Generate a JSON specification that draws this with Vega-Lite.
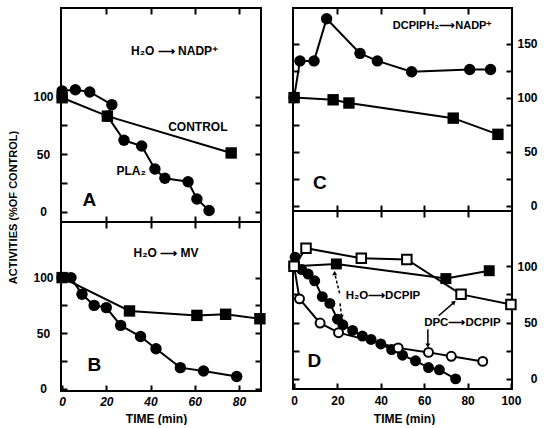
{
  "$schema": "https://vega.github.io/schema/vega-lite/v6.json",
  "padding": {"left": 6, "top": 6, "right": 0, "bottom": 0},
  "background": "white",
  "config": {
    "font": "Liberation Sans",
    "view": {"stroke": "black", "strokeWidth": 2},
    "axis": {
      "domain": false, "grid": false, "tickSize": 6, "offset": -6, "tickWidth": 2, "tickColor": "black",
      "labelFont": "Liberation Sans", "labelFontSize": 12, "labelFontWeight": "bold", "labelColor": "black",
      "titleFont": "Liberation Sans", "titleFontSize": 12, "titleFontWeight": "bold", "titleColor": "black",
      "labelOverlap": false, "labelFlush": false
    },
    "text": {"font": "Liberation Sans", "fontWeight": "bold", "fontSize": 12, "color": "black"}
  },
  "datasets": {
    "A": [
      {"s": "pla2", "o": 1, "t": 0, "v": 100},
      {"s": "pla2", "o": 2, "t": 0, "v": 105},
      {"s": "pla2", "o": 3, "t": 6, "v": 106},
      {"s": "pla2", "o": 4, "t": 12.5, "v": 104},
      {"s": "pla2", "o": 5, "t": 22.5, "v": 93},
      {"s": "pla2", "o": 6, "t": 20.5, "v": 83},
      {"s": "pla2", "o": 7, "t": 28, "v": 62},
      {"s": "pla2", "o": 8, "t": 36, "v": 57},
      {"s": "pla2", "o": 9, "t": 42, "v": 37},
      {"s": "pla2", "o": 10, "t": 46.5, "v": 29},
      {"s": "pla2", "o": 11, "t": 57, "v": 26},
      {"s": "pla2", "o": 12, "t": 61, "v": 11},
      {"s": "pla2", "o": 13, "t": 66.5, "v": 1},
      {"s": "ctrl", "o": 1, "t": 0, "v": 99},
      {"s": "ctrl", "o": 2, "t": 20.5, "v": 83},
      {"s": "ctrl", "o": 3, "t": 76.5, "v": 51}
    ],
    "B": [
      {"s": "pla2", "o": 1, "t": 0, "v": 100},
      {"s": "pla2", "o": 2, "t": 4, "v": 100},
      {"s": "pla2", "o": 3, "t": 9, "v": 85},
      {"s": "pla2", "o": 4, "t": 14.5, "v": 75},
      {"s": "pla2", "o": 5, "t": 20, "v": 73},
      {"s": "pla2", "o": 6, "t": 26.5, "v": 57},
      {"s": "pla2", "o": 7, "t": 35.5, "v": 47},
      {"s": "pla2", "o": 8, "t": 42.5, "v": 36},
      {"s": "pla2", "o": 9, "t": 53.5, "v": 19},
      {"s": "pla2", "o": 10, "t": 64, "v": 16},
      {"s": "pla2", "o": 11, "t": 79, "v": 11},
      {"s": "ctrl", "o": 1, "t": 0, "v": 100},
      {"s": "ctrl", "o": 2, "t": 30.5, "v": 70},
      {"s": "ctrl", "o": 3, "t": 61, "v": 66},
      {"s": "ctrl", "o": 4, "t": 74, "v": 67},
      {"s": "ctrl", "o": 5, "t": 89.5, "v": 63}
    ],
    "C": [
      {"s": "pla2", "o": 1, "t": 0, "v": 100},
      {"s": "pla2", "o": 2, "t": 2.7, "v": 134},
      {"s": "pla2", "o": 3, "t": 9.2, "v": 134},
      {"s": "pla2", "o": 4, "t": 15, "v": 173},
      {"s": "pla2", "o": 5, "t": 30.4, "v": 141},
      {"s": "pla2", "o": 6, "t": 38.4, "v": 134},
      {"s": "pla2", "o": 7, "t": 54.2, "v": 124},
      {"s": "pla2", "o": 8, "t": 81, "v": 126},
      {"s": "pla2", "o": 9, "t": 90.6, "v": 126},
      {"s": "ctrl", "o": 1, "t": 0, "v": 100},
      {"s": "ctrl", "o": 2, "t": 18, "v": 98},
      {"s": "ctrl", "o": 3, "t": 25.3, "v": 95},
      {"s": "ctrl", "o": 4, "t": 73.4, "v": 81},
      {"s": "ctrl", "o": 5, "t": 94, "v": 66}
    ],
    "D": [
      {"s": "h2o_pla2", "o": 1, "t": 0, "v": 100},
      {"s": "h2o_pla2", "o": 2, "t": 0.5, "v": 108},
      {"s": "h2o_pla2", "o": 3, "t": 3.5, "v": 97},
      {"s": "h2o_pla2", "o": 4, "t": 6.5, "v": 93},
      {"s": "h2o_pla2", "o": 5, "t": 9.5, "v": 87},
      {"s": "h2o_pla2", "o": 6, "t": 13, "v": 73},
      {"s": "h2o_pla2", "o": 7, "t": 16.5, "v": 67},
      {"s": "h2o_pla2", "o": 8, "t": 20, "v": 53},
      {"s": "h2o_pla2", "o": 9, "t": 22.5, "v": 48},
      {"s": "h2o_pla2", "o": 10, "t": 27, "v": 43},
      {"s": "h2o_pla2", "o": 11, "t": 31.5, "v": 38},
      {"s": "h2o_pla2", "o": 12, "t": 35.5, "v": 35},
      {"s": "h2o_pla2", "o": 13, "t": 40, "v": 31},
      {"s": "h2o_pla2", "o": 14, "t": 45, "v": 26},
      {"s": "h2o_pla2", "o": 15, "t": 50, "v": 21},
      {"s": "h2o_pla2", "o": 16, "t": 56, "v": 16},
      {"s": "h2o_pla2", "o": 17, "t": 62, "v": 10},
      {"s": "h2o_pla2", "o": 18, "t": 67, "v": 8},
      {"s": "h2o_pla2", "o": 19, "t": 74.5, "v": 0},
      {"s": "h2o_ctrl", "o": 1, "t": 0, "v": 100},
      {"s": "h2o_ctrl", "o": 2, "t": 19.5, "v": 102},
      {"s": "h2o_ctrl", "o": 3, "t": 70, "v": 89},
      {"s": "h2o_ctrl", "o": 4, "t": 90, "v": 96},
      {"s": "dpc_pla2", "o": 1, "t": 0, "v": 100},
      {"s": "dpc_pla2", "o": 2, "t": 2.5, "v": 71},
      {"s": "dpc_pla2", "o": 3, "t": 12, "v": 49.5},
      {"s": "dpc_pla2", "o": 4, "t": 20.5, "v": 41},
      {"s": "dpc_pla2", "o": 5, "t": 48, "v": 27.5},
      {"s": "dpc_pla2", "o": 6, "t": 62, "v": 23.5},
      {"s": "dpc_pla2", "o": 7, "t": 72.5, "v": 20},
      {"s": "dpc_pla2", "o": 8, "t": 87, "v": 15.5},
      {"s": "dpc_ctrl", "o": 1, "t": 0, "v": 100},
      {"s": "dpc_ctrl", "o": 2, "t": 5.5, "v": 116},
      {"s": "dpc_ctrl", "o": 3, "t": 31, "v": 107},
      {"s": "dpc_ctrl", "o": 4, "t": 52, "v": 106},
      {"s": "dpc_ctrl", "o": 5, "t": 77, "v": 75},
      {"s": "dpc_ctrl", "o": 6, "t": 100, "v": 66}
    ]
  },
  "spacing": 17,
  "hconcat": [
    {
      "bounds": "flush",
      "spacing": 0,
      "vconcat": [
        {
          "width": 200, "height": 214,
          "data": {"name": "A"},
          "resolve": {"axis": {"x": "independent", "y": "independent"}},
          "layer": [
            {
              "mark": {"type": "line", "color": "black", "strokeWidth": 2},
              "encoding": {
                "x": {"field": "t", "type": "quantitative", "scale": {"domain": [-0.5, 90], "nice": false, "zero": false},
                      "axis": {"orient": "bottom", "values": [20, 40, 60, 80], "labels": false, "title": null}},
                "y": {"field": "v", "type": "quantitative", "scale": {"domain": [-9, 177], "nice": false, "zero": false},
                      "axis": {"orient": "left", "values": [0, 25, 50, 75, 100], "labelExpr": "datum.value % 50 === 0 ? datum.label : ''",
                               "labelAlign": "center", "labelPadding": 18,
                               "title": "ACTIVITIES (%OF CONTROL)", "titleX": -54, "titleY": 199, "titleAngle": -90,
                               "titleAlign": "center", "titleBaseline": "middle", "titleFontSize": 11}},
                "detail": {"field": "s"},
                "order": {"field": "o"}
              }
            },
            {
              "transform": [{"filter": "datum.s === 'ctrl'"}],
              "mark": {"type": "point", "shape": "square", "filled": true, "color": "black", "size": 130, "opacity": 1},
              "encoding": {
                "x": {"field": "t", "type": "quantitative", "axis": {"orient": "top", "values": [20, 40, 60, 80], "labels": false, "title": null}},
                "y": {"field": "v", "type": "quantitative", "axis": {"orient": "right", "values": [0, 25, 50, 75, 100], "labels": false, "title": null}}
              }
            },
            {
              "transform": [{"filter": "datum.s === 'pla2'"}],
              "mark": {"type": "point", "shape": "circle", "filled": true, "color": "black", "size": 130, "opacity": 1},
              "encoding": {
                "x": {"field": "t", "type": "quantitative", "axis": null},
                "y": {"field": "v", "type": "quantitative", "axis": null}
              }
            },
            {
              "data": {"values": [
                {"t": 50.9, "v": 140, "label": "H₂O ⟶ NADP⁺"},
                {"t": 61.4, "v": 74, "label": "CONTROL"},
                {"t": 31.2, "v": 35.5, "label": "PLA₂"}
              ]},
              "mark": {"type": "text", "fontSize": 12, "align": "center", "baseline": "middle"},
              "encoding": {
                "x": {"field": "t", "type": "quantitative", "axis": null},
                "y": {"field": "v", "type": "quantitative", "axis": null},
                "text": {"field": "label"}
              }
            },
            {
              "data": {"values": [{"t": 12.3, "v": 10.5, "label": "A"}]},
              "mark": {"type": "text", "fontSize": 19, "align": "center", "baseline": "middle"},
              "encoding": {
                "x": {"field": "t", "type": "quantitative", "axis": null},
                "y": {"field": "v", "type": "quantitative", "axis": null},
                "text": {"field": "label"}
              }
            }
          ]
        },
        {
          "width": 200, "height": 169,
          "data": {"name": "B"},
          "resolve": {"axis": {"x": "independent", "y": "independent"}},
          "layer": [
            {
              "mark": {"type": "line", "color": "black", "strokeWidth": 2},
              "encoding": {
                "x": {"field": "t", "type": "quantitative", "scale": {"domain": [-0.5, 90], "nice": false, "zero": false},
                      "axis": {"orient": "bottom", "values": [0, 20, 40, 60, 80], "labelFontStyle": "italic", "labelPadding": 5,
                               "title": "TIME (min)", "titleX": 95, "titleY": 33, "titleAlign": "center", "titleBaseline": "middle"}},
                "y": {"field": "v", "type": "quantitative", "scale": {"domain": [-2, 150], "nice": false, "zero": false},
                      "axis": {"orient": "left", "values": [0, 25, 50, 75, 100], "labelExpr": "datum.value % 50 === 0 ? datum.label : ''",
                               "labelAlign": "center", "labelPadding": 18, "title": null}},
                "detail": {"field": "s"},
                "order": {"field": "o"}
              }
            },
            {
              "transform": [{"filter": "datum.s === 'ctrl'"}],
              "mark": {"type": "point", "shape": "square", "filled": true, "color": "black", "size": 130, "opacity": 1},
              "encoding": {
                "x": {"field": "t", "type": "quantitative", "axis": {"orient": "top", "values": [20, 40, 60, 80], "labels": false, "title": null}},
                "y": {"field": "v", "type": "quantitative", "axis": {"orient": "right", "values": [0, 25, 50, 75, 100], "labels": false, "title": null}}
              }
            },
            {
              "transform": [{"filter": "datum.s === 'pla2'"}],
              "mark": {"type": "point", "shape": "circle", "filled": true, "color": "black", "size": 130, "opacity": 1},
              "encoding": {
                "x": {"field": "t", "type": "quantitative", "axis": null},
                "y": {"field": "v", "type": "quantitative", "axis": null}
              }
            },
            {
              "data": {"values": [{"t": 47, "v": 122, "label": "H₂O ⟶ MV"}]},
              "mark": {"type": "text", "fontSize": 12, "align": "center", "baseline": "middle"},
              "encoding": {
                "x": {"field": "t", "type": "quantitative", "axis": null},
                "y": {"field": "v", "type": "quantitative", "axis": null},
                "text": {"field": "label"}
              }
            },
            {
              "data": {"values": [{"t": 14.6, "v": 21.4, "label": "B"}]},
              "mark": {"type": "text", "fontSize": 19, "align": "center", "baseline": "middle"},
              "encoding": {
                "x": {"field": "t", "type": "quantitative", "axis": null},
                "y": {"field": "v", "type": "quantitative", "axis": null},
                "text": {"field": "label"}
              }
            }
          ]
        }
      ]
    },
    {
      "bounds": "flush",
      "spacing": 0,
      "vconcat": [
        {
          "width": 219, "height": 203,
          "data": {"name": "C"},
          "resolve": {"axis": {"x": "independent", "y": "independent"}},
          "layer": [
            {
              "mark": {"type": "line", "color": "black", "strokeWidth": 2},
              "encoding": {
                "x": {"field": "t", "type": "quantitative", "scale": {"domain": [-0.5, 100.5], "nice": false, "zero": false},
                      "axis": {"orient": "bottom", "values": [20, 40, 60, 80], "labels": false, "title": null}},
                "y": {"field": "v", "type": "quantitative", "scale": {"domain": [-5, 183], "nice": false, "zero": false},
                      "axis": {"orient": "left", "values": [0, 25, 50, 75, 100, 125, 150], "labels": false, "title": null}},
                "detail": {"field": "s"},
                "order": {"field": "o"}
              }
            },
            {
              "transform": [{"filter": "datum.s === 'ctrl'"}],
              "mark": {"type": "point", "shape": "square", "filled": true, "color": "black", "size": 130, "opacity": 1},
              "encoding": {
                "x": {"field": "t", "type": "quantitative", "axis": {"orient": "top", "values": [20, 40, 60, 80], "labels": false, "title": null}},
                "y": {"field": "v", "type": "quantitative", "axis": {"orient": "right", "values": [0, 25, 50, 75, 100, 125, 150],
                      "labelExpr": "datum.value % 50 === 0 ? datum.label : ''", "labelAlign": "right", "labelPadding": 25, "title": null}}
              }
            },
            {
              "transform": [{"filter": "datum.s === 'pla2'"}],
              "mark": {"type": "point", "shape": "circle", "filled": true, "color": "black", "size": 130, "opacity": 1},
              "encoding": {
                "x": {"field": "t", "type": "quantitative", "axis": null},
                "y": {"field": "v", "type": "quantitative", "axis": null}
              }
            },
            {
              "data": {"values": [{"t": 68.5, "v": 166, "label": "DCPIPH₂⟶NADP⁺"}]},
              "mark": {"type": "text", "fontSize": 11, "align": "center", "baseline": "middle"},
              "encoding": {
                "x": {"field": "t", "type": "quantitative", "axis": null},
                "y": {"field": "v", "type": "quantitative", "axis": null},
                "text": {"field": "label"}
              }
            },
            {
              "data": {"values": [{"t": 11.9, "v": 21, "label": "C"}]},
              "mark": {"type": "text", "fontSize": 19, "align": "center", "baseline": "middle"},
              "encoding": {
                "x": {"field": "t", "type": "quantitative", "axis": null},
                "y": {"field": "v", "type": "quantitative", "axis": null},
                "text": {"field": "label"}
              }
            }
          ]
        },
        {
          "width": 219, "height": 178,
          "data": {"name": "D"},
          "resolve": {"axis": {"x": "independent", "y": "independent"}},
          "layer": [
            {
              "mark": {"type": "line", "color": "black", "strokeWidth": 2},
              "encoding": {
                "x": {"field": "t", "type": "quantitative", "scale": {"domain": [-0.5, 100.5], "nice": false, "zero": false},
                      "axis": {"orient": "bottom", "values": [0, 20, 40, 60, 80, 100], "labelPadding": 6,
                               "title": "TIME (min)", "titleX": 111, "titleY": 35, "titleAlign": "center", "titleBaseline": "middle"}},
                "y": {"field": "v", "type": "quantitative", "scale": {"domain": [-9, 149], "nice": false, "zero": false},
                      "axis": {"orient": "left", "values": [0, 25, 50, 75, 100], "labels": false, "title": null}},
                "detail": {"field": "s"},
                "order": {"field": "o"}
              }
            },
            {
              "transform": [{"filter": "datum.s === 'h2o_pla2'"}],
              "mark": {"type": "point", "shape": "circle", "filled": true, "color": "black", "size": 120, "opacity": 1},
              "encoding": {
                "x": {"field": "t", "type": "quantitative", "axis": {"orient": "top", "values": [20, 40, 60, 80], "labels": false, "title": null}},
                "y": {"field": "v", "type": "quantitative", "axis": {"orient": "right", "values": [0, 25, 50, 75, 100],
                      "labelExpr": "datum.value % 50 === 0 ? datum.label : ''", "labelAlign": "right", "labelPadding": 25, "title": null}}
              }
            },
            {
              "transform": [{"filter": "datum.s === 'h2o_ctrl'"}],
              "mark": {"type": "point", "shape": "square", "filled": true, "color": "black", "size": 120, "opacity": 1},
              "encoding": {
                "x": {"field": "t", "type": "quantitative", "axis": null},
                "y": {"field": "v", "type": "quantitative", "axis": null}
              }
            },
            {
              "transform": [{"filter": "datum.s === 'dpc_pla2'"}],
              "mark": {"type": "point", "shape": "circle", "filled": true, "fill": "white", "stroke": "black", "strokeWidth": 2, "size": 80, "opacity": 1},
              "encoding": {
                "x": {"field": "t", "type": "quantitative", "axis": null},
                "y": {"field": "v", "type": "quantitative", "axis": null}
              }
            },
            {
              "transform": [{"filter": "datum.s === 'dpc_ctrl'"}],
              "mark": {"type": "point", "shape": "square", "filled": true, "fill": "white", "stroke": "black", "strokeWidth": 2, "size": 90, "opacity": 1},
              "encoding": {
                "x": {"field": "t", "type": "quantitative", "axis": null},
                "y": {"field": "v", "type": "quantitative", "axis": null}
              }
            },
            {
              "data": {"values": [
                {"t": 21, "v": 76, "t2": 18.8, "v2": 93},
                {"t": 21.2, "v": 67, "t2": 21.8, "v2": 56}
              ]},
              "mark": {"type": "rule", "color": "black", "strokeWidth": 1.5, "strokeDash": [3, 2]},
              "encoding": {
                "x": {"field": "t", "type": "quantitative", "axis": null},
                "y": {"field": "v", "type": "quantitative", "axis": null},
                "x2": {"field": "t2"},
                "y2": {"field": "v2"}
              }
            },
            {
              "data": {"values": [
                {"t": 66.7, "v": 56, "t2": 73.5, "v2": 67.5},
                {"t": 61.7, "v": 44, "t2": 61.7, "v2": 30}
              ]},
              "mark": {"type": "rule", "color": "black", "strokeWidth": 1.5},
              "encoding": {
                "x": {"field": "t", "type": "quantitative", "axis": null},
                "y": {"field": "v", "type": "quantitative", "axis": null},
                "x2": {"field": "t2"},
                "y2": {"field": "v2"}
              }
            },
            {
              "data": {"values": [{"t": 18.7, "v": 94}]},
              "mark": {"type": "point", "shape": "triangle-up", "filled": true, "color": "black", "size": 25, "opacity": 1},
              "encoding": {
                "x": {"field": "t", "type": "quantitative", "axis": null},
                "y": {"field": "v", "type": "quantitative", "axis": null}
              }
            },
            {
              "data": {"values": [{"t": 21.8, "v": 55}, {"t": 61.7, "v": 29.5}]},
              "mark": {"type": "point", "shape": "triangle-down", "filled": true, "color": "black", "size": 25, "opacity": 1},
              "encoding": {
                "x": {"field": "t", "type": "quantitative", "axis": null},
                "y": {"field": "v", "type": "quantitative", "axis": null}
              }
            },
            {
              "data": {"values": [{"t": 73.8, "v": 68}]},
              "mark": {"type": "point", "shape": "triangle-up", "angle": 48, "filled": true, "color": "black", "size": 25, "opacity": 1},
              "encoding": {
                "x": {"field": "t", "type": "quantitative", "axis": null},
                "y": {"field": "v", "type": "quantitative", "axis": null}
              }
            },
            {
              "data": {"values": [
                {"t": 41, "v": 73.5, "label": "H₂O⟶DCPIP"},
                {"t": 77.6, "v": 50, "label": "DPC⟶DCPIP"}
              ]},
              "mark": {"type": "text", "fontSize": 11.5, "align": "center", "baseline": "middle"},
              "encoding": {
                "x": {"field": "t", "type": "quantitative", "axis": null},
                "y": {"field": "v", "type": "quantitative", "axis": null},
                "text": {"field": "label"}
              }
            },
            {
              "data": {"values": [{"t": 9.4, "v": 15.8, "label": "D"}]},
              "mark": {"type": "text", "fontSize": 19, "align": "center", "baseline": "middle"},
              "encoding": {
                "x": {"field": "t", "type": "quantitative", "axis": null},
                "y": {"field": "v", "type": "quantitative", "axis": null},
                "text": {"field": "label"}
              }
            }
          ]
        }
      ]
    }
  ]
}
